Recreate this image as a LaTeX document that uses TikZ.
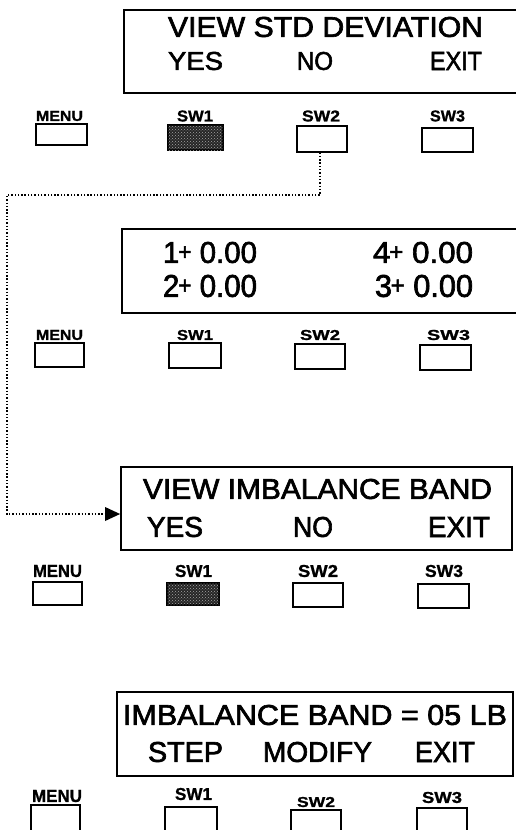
\documentclass[tikz,border=0pt]{standalone}
\usepackage{fontspec}
\usepackage{graphicx}
\setmainfont{Liberation Sans}
\newfontfamily\panelfont[FakeBold=2.2]{Liberation Sans}
\newfontfamily\labfont[FakeBold=1.0]{Liberation Sans Bold}
\usetikzlibrary{arrows.meta,patterns}
\newcommand\boxnode[6]{%
  \node[#6, minimum width={(#4-#2)*1pt}, minimum height={(#5-#3)*1pt}] (#1) at ({(#2+#4)/2},{(#3+#5)/2}) {};}
\newcommand\txt[7]{%
  \node[inner sep=0pt, anchor=center] (#1) at (#2,#3) {\resizebox{#4pt}{#5pt}{#6#7}};}
\newcommand\smplus{\kern-0.04em\raisebox{0.1em}{\scalebox{0.78}{+}}}
\begin{document}
\begin{tikzpicture}[x=1pt,y=-1pt,
  panel/.style={draw=black, line width=1.8pt, inner sep=0pt},
  btn/.style={draw=black, line width=1.1pt, inner sep=0pt},
  btnon/.style={draw=black, line width=1.1pt, inner sep=0pt, fill=black!85,
     postaction={pattern=crosshatch dots, pattern color=black!35}},
  flow/.style={line width=1.3pt, dash pattern=on 1.4pt off 1.9pt}]
\useasboundingbox (0,0) rectangle (516,830);
\clip (0,0) rectangle (516,830);

% ---------- panel 1 ----------
\boxnode{p1}{124}{10}{530}{93}{panel}
\txt{p1a}{325.5}{27}{315}{20}{\panelfont}{VIEW STD DEVIATION}
\txt{p1b}{195.5}{61}{55}{18}{\panelfont}{YES}
\txt{p1c}{315}{61}{36}{18}{\panelfont}{NO}
\txt{p1d}{456}{61}{52}{18}{\panelfont}{EXIT}
\txt{l1m}{59.5}{116}{47}{10}{\labfont}{MENU}
\txt{l11}{195}{116}{36}{11}{\labfont}{SW1}
\txt{l12}{321}{116}{38}{11}{\labfont}{SW2}
\txt{l13}{447.5}{116}{35}{11}{\labfont}{SW3}
\boxnode{b1m}{36}{124}{87}{145}{btn}
\boxnode{b11}{168}{125}{223}{150}{btnon}
\boxnode{b12}{297}{126}{347}{152}{btn}
\boxnode{b13}{422}{128}{473}{152}{btn}

% ---------- panel 2 ----------
\boxnode{p2}{122}{229}{530}{313}{panel}
\txt{p2a}{210}{252.5}{94}{21}{\panelfont}{1\smplus\ 0.00}
\txt{p2b}{423}{252.5}{100}{21}{\panelfont}{4\smplus\ 0.00}
\txt{p2c}{210}{286}{94}{22}{\panelfont}{2\smplus\ 0.00}
\txt{p2d}{424}{286}{98}{22}{\panelfont}{3\smplus\ 0.00}
\txt{l2m}{59.5}{335}{47}{10}{\labfont}{MENU}
\txt{l21}{195}{335}{36}{10}{\labfont}{SW1}
\txt{l22}{320}{335}{40}{10}{\labfont}{SW2}
\txt{l23}{448.5}{335}{43}{10}{\labfont}{SW3}
\boxnode{b2m}{35}{343}{84}{367}{btn}
\boxnode{b21}{169}{343}{221}{368}{btn}
\boxnode{b22}{295}{344}{345}{369}{btn}
\boxnode{b23}{420}{345}{471}{370}{btn}

% ---------- panel 3 ----------
\boxnode{p3}{121}{467}{512}{550}{panel}
\txt{p3a}{317.5}{489}{349}{20}{\panelfont}{VIEW IMBALANCE BAND}
\txt{p3b}{175}{527}{56}{20}{\panelfont}{YES}
\txt{p3c}{313}{527}{40}{20}{\panelfont}{NO}
\txt{p3d}{459}{527}{62}{20}{\panelfont}{EXIT}
\txt{l3m}{57.5}{571}{49}{12}{\labfont}{MENU}
\txt{l31}{193.5}{571}{37}{12}{\labfont}{SW1}
\txt{l32}{318}{571}{40}{12}{\labfont}{SW2}
\txt{l33}{444}{571}{38}{12}{\labfont}{SW3}
\boxnode{b3m}{33}{582}{82}{605}{btn}
\boxnode{b31}{167}{583}{219}{605}{btnon}
\boxnode{b32}{293}{583}{343}{607}{btn}
\boxnode{b33}{418}{584}{469}{608}{btn}

% ---------- panel 4 ----------
\boxnode{p4}{117}{692}{513}{776}{panel}
\txt{p4a}{315}{715}{384}{20}{\panelfont}{IMBALANCE BAND = 05 LB}
\txt{p4b}{185.5}{752}{75}{20}{\panelfont}{STEP}
\txt{p4c}{317.5}{752}{109}{20}{\panelfont}{MODIFY}
\txt{p4d}{445}{752}{60}{20}{\panelfont}{EXIT}
\txt{l4m}{57}{796}{50}{12}{\labfont}{MENU}
\txt{l41}{193.5}{794}{37}{12}{\labfont}{SW1}
\txt{l42}{316}{802}{38}{10}{\labfont}{SW2}
\txt{l43}{442}{797.5}{40}{11}{\labfont}{SW3}
\boxnode{b4m}{31}{805}{80}{845}{btn}
\boxnode{b41}{165}{807}{217}{845}{btn}
\boxnode{b42}{291}{810}{341}{845}{btn}
\boxnode{b43}{417}{808}{467}{845}{btn}

% ---------- connector ----------
\coordinate (d1) at (320,195);
\coordinate (d2) at (7,195);
\coordinate (d3) at (7,514);
\draw[flow] (d1 |- b12.south) -- (d1) -- (d2) -- (d3) -- ([xshift=-14pt]d3 -| p3.west);
\draw[line width=0pt, -{Triangle[length=15pt,width=14pt]}] ([xshift=-15pt]d3 -| p3.west) -- (d3 -| p3.west);
\end{tikzpicture}
\end{document}
